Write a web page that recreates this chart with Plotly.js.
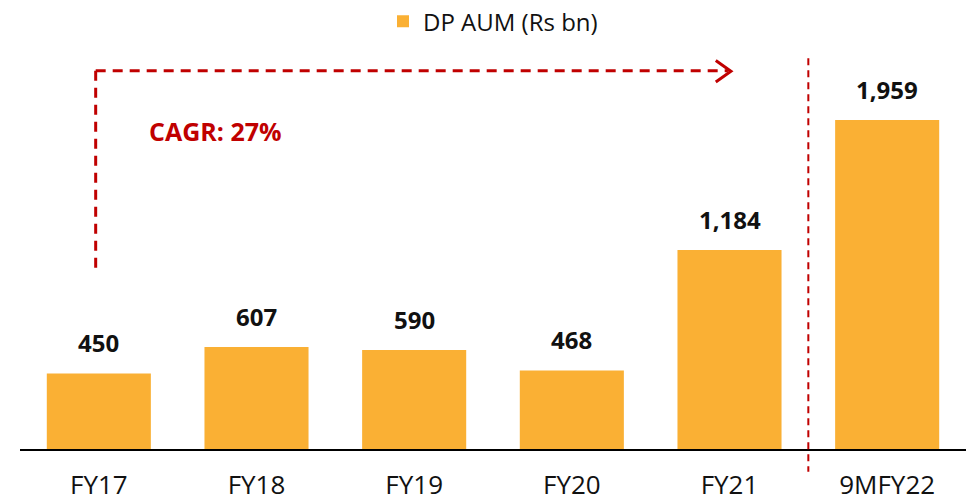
<!DOCTYPE html>
<html>
<head>
<meta charset="utf-8">
<script src="https://cdn.plot.ly/plotly-3.0.1.min.js"></script>
<style>html,body{margin:0;padding:0;background:#fff;}#chart{width:968px;height:503px;}</style>
</head>
<body>
<div id="chart"></div>
<script>
const categories = ["FY17", "FY18", "FY19", "FY20", "FY21", "9MFY22"];
const aumValues = [450, 607, 590, 468, 1184, 1959];
const valueLabels = ["450", "607", "590", "468", "1,184", "1,959"];
const seriesName = "DP AUM (Rs bn)";
const cagrLabel = "CAGR: 27%";

const red = "#C00000";
const barColor = "#FAB034";

const trace = {
  type: "bar",
  x: categories,
  y: aumValues,
  name: seriesName,
  marker: {color: barColor},
  hoverinfo: "skip"
};

const annotations = categories.map((c, i) => ({
  x: c, y: aumValues[i], xref: "x", yref: "y",
  text: "<b>" + valueLabels[i] + "</b>",
  showarrow: false, yanchor: "bottom", yshift: 12,
  font: {family: "Open Sans", size: 24, color: "#111"}
}));
annotations.push({
  xref: "paper", yref: "paper", x: 0.134, y: 0.785, xanchor: "left", yanchor: "middle",
  text: "<b>" + cagrLabel + "</b>", showarrow: false,
  font: {family: "Open Sans", size: 25, color: red}
});

const shapes = [
  {type: "line", xref: "x", yref: "y", x0: -0.02, x1: 3.99, y0: 2252, y1: 2252,
   line: {color: red, width: 3, dash: "10px,7px"}},
  {type: "line", xref: "x", yref: "y", x0: -0.02, x1: -0.02, y0: 2252, y1: 1052,
   line: {color: red, width: 3, dash: "10px,7px"}},
  {type: "path", xref: "paper", yref: "paper",
   path: "M 0.7355 0.9595 L 0.7515 0.933 L 0.7355 0.9065",
   line: {color: red, width: 3}},
  {type: "line", xref: "x", yref: "paper", x0: 4.5, x1: 4.5, y0: 0.965, y1: -0.056,
   line: {color: red, width: 2, dash: "7px,5px"}}
];

const layout = {
  width: 968, height: 503,
  margin: {l: 20, r: 2, t: 40, b: 54},
  paper_bgcolor: "#fff", plot_bgcolor: "#fff",
  bargap: 0.34,
  showlegend: true,
  legend: {orientation: "h", x: 0.5, xanchor: "center", yref: "container", y: 0.957, yanchor: "middle",
           font: {family: "Open Sans", size: 24, color: "#111"}},
  xaxis: {
    showline: true, linecolor: "#000", linewidth: 1.5,
    showgrid: false, zeroline: false,
    ticks: "outside", ticklen: 12, tickcolor: "rgba(0,0,0,0)",
    tickfont: {family: "Open Sans", size: 26, color: "#111"},
    range: [-0.5, 5.5]
  },
  yaxis: {
    visible: false, range: [0, 2410], showgrid: false, zeroline: false
  },
  annotations: annotations,
  shapes: shapes
};

Plotly.newPlot("chart", [trace], layout, {displayModeBar: false, staticPlot: true});
</script>
</body>
</html>
